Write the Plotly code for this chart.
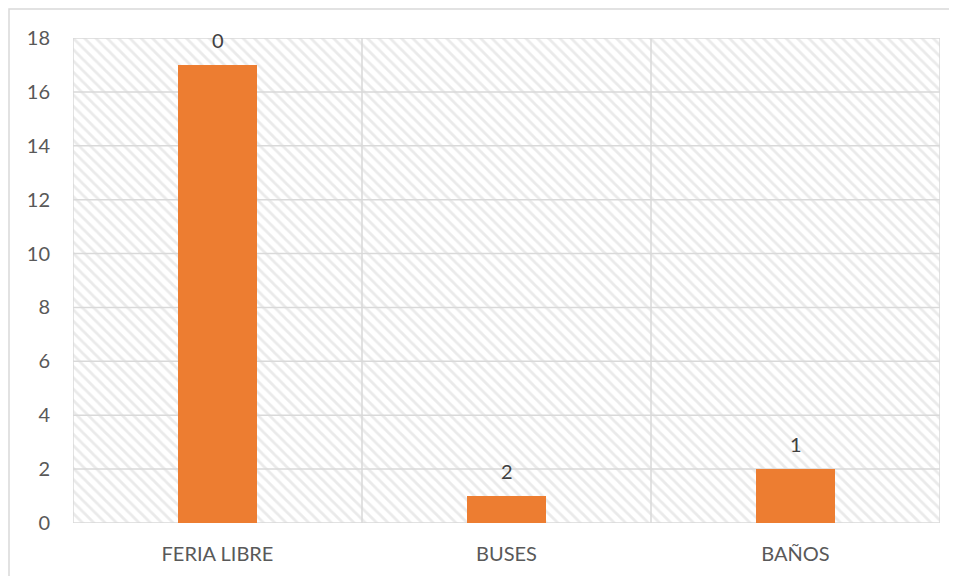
import plotly.graph_objects as go

# datos
categorias = ["FERIA LIBRE", "BUSES", "BAÑOS"]
valores = [17, 1, 2]
etiquetas = ["0", "2", "1"]
y_ticks = [0, 2, 4, 6, 8, 10, 12, 14, 16, 18]

GRID = "#d9d9d9"
ORANGE = "#ED7D31"
FONT = "Lato"

pos = list(range(len(categorias)))
y_max = y_ticks[-1]
x_lo, x_hi = -0.5, len(categorias) - 0.5

# márgenes (la página añade 8 px alrededor de la figura)
M_L, M_R, M_T, M_B = 65, 25, 30, 61
W, H = 957, 576
plot_w = W - M_L - M_R
plot_h = H - M_T - M_B

fig = go.Figure()

# fondo rayado (patrón diagonal) en el eje principal
fig.add_trace(go.Bar(
    x=[(x_lo + x_hi) / 2], y=[y_max], width=[x_hi - x_lo],
    marker=dict(color="white", line=dict(width=0),
                pattern=dict(shape="\\", fgcolor="#d6d6d6", bgcolor="white",
                             size=8, solidity=0.35)),
    hoverinfo="skip", showlegend=False,
))

# líneas de cuadrícula encima del rayado
gx, gy = [], []
for t in y_ticks:
    gx += [x_lo, x_hi, None]
    gy += [t, t, None]
for b in [x_lo + i for i in range(len(categorias) + 1)]:
    gx += [b, b, None]
    gy += [0, y_max, None]
fig.add_trace(go.Scatter(
    x=gx, y=gy, mode="lines", line=dict(color=GRID, width=1.5),
    hoverinfo="skip", showlegend=False,
))

# barras en un eje superpuesto para quedar sobre la cuadrícula
fig.add_trace(go.Bar(
    x=pos, y=valores, width=0.27, xaxis="x2", yaxis="y2",
    marker=dict(color=ORANGE, line=dict(width=0)),
    showlegend=False,
))

for p, v, e in zip(pos, valores, etiquetas):
    fig.add_annotation(x=p, y=v, xref="x2", yref="y2", text=e,
                       showarrow=False, yanchor="bottom", yshift=11,
                       font=dict(family=FONT, size=20, color="#404040"))

# marco exterior del gráfico
fig.add_shape(type="rect", xref="paper", yref="paper",
              x0=(1 - M_L) / plot_w, x1=1.1,
              y0=-0.3, y1=(M_T + plot_h - 1) / plot_h,
              line=dict(color=GRID, width=1.5), layer="below")

fig.update_layout(
    width=W, height=H,
    margin=dict(l=M_L, r=M_R, t=M_T, b=M_B),
    paper_bgcolor="white", plot_bgcolor="white",
    barmode="overlay", bargap=0,
    font=dict(family=FONT, color="#595959"),
    xaxis=dict(range=[x_lo, x_hi], tickvals=pos, ticktext=categorias,
               showgrid=False, zeroline=False, showline=False,
               ticks="outside", ticklen=13, tickcolor="rgba(0,0,0,0)",
               tickfont=dict(size=20, color="#595959")),
    yaxis=dict(range=[0, y_max], tickvals=y_ticks,
               showgrid=False, zeroline=False, showline=False,
               ticks="outside", ticklen=18, tickcolor="rgba(0,0,0,0)",
               tickfont=dict(size=20, color="#595959")),
    xaxis2=dict(range=[x_lo, x_hi], overlaying="x", visible=False),
    yaxis2=dict(range=[0, y_max], overlaying="y", visible=False),
    showlegend=False,
)

fig.write_html("out.html")
